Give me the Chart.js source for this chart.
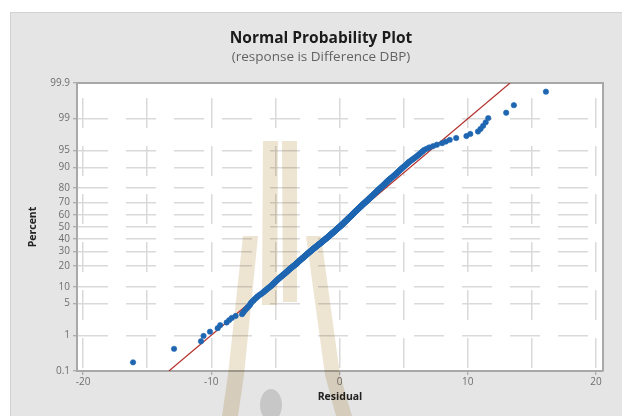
<!DOCTYPE html>
<html>
<head>
<meta charset="utf-8">
<style>
  html, body { margin: 0; padding: 0; background: #ffffff; }
  #wrap { width: 622px; height: 416px; }
</style>
<script src="https://cdn.jsdelivr.net/npm/chart.js@4.4.1/dist/chart.umd.min.js"></script>
</head>
<body>
<div id="wrap"><canvas id="chart" width="622" height="416"></canvas></div>
<script>
// Residuals of the DBP-difference model, sorted ascending.
const residuals = [
  -16.1, -12.9, -10.8, -10.6, -10.1, -9.5, -9.3, -8.8, -8.6, -8.4,
  -8.1, -7.6, -7.5, -7.4, -7.3, -7.2, -7.1, -7.0, -6.95, -6.9,
  -6.82, -6.71, -6.66, -6.55, -6.47, -6.41, -6.3, -6.22, -6.1, -6.02,
  -5.93, -5.88, -5.79, -5.71, -5.66, -5.57, -5.52, -5.43, -5.37, -5.29,
  -5.26, -5.19, -5.16, -5.08, -5.05, -4.99, -4.96, -4.88, -4.86, -4.8,
  -4.74, -4.71, -4.64, -4.61, -4.55, -4.49, -4.46, -4.39, -4.36, -4.29,
  -4.27, -4.2, -4.18, -4.12, -4.09, -4.03, -4.01, -3.95, -3.93, -3.87,
  -3.84, -3.78, -3.76, -3.7, -3.67, -3.61, -3.59, -3.53, -3.5, -3.44,
  -3.42, -3.37, -3.35, -3.3, -3.28, -3.23, -3.21, -3.16, -3.14, -3.09,
  -3.07, -3.02, -3.0, -2.95, -2.93, -2.88, -2.86, -2.81, -2.78, -2.74,
  -2.72, -2.67, -2.66, -2.61, -2.59, -2.54, -2.53, -2.48, -2.46, -2.41,
  -2.4, -2.35, -2.33, -2.28, -2.27, -2.22, -2.2, -2.15, -2.14, -2.09,
  -2.07, -2.02, -2.01, -1.96, -1.94, -1.89, -1.88, -1.83, -1.81, -1.76,
  -1.75, -1.7, -1.68, -1.63, -1.62, -1.57, -1.55, -1.5, -1.49, -1.44,
  -1.42, -1.38, -1.36, -1.32, -1.3, -1.26, -1.24, -1.2, -1.18, -1.14,
  -1.12, -1.08, -1.06, -1.02, -1.0, -0.96, -0.94, -0.9, -0.88, -0.84,
  -0.82, -0.79, -0.76, -0.74, -0.71, -0.68, -0.65, -0.63, -0.6, -0.57,
  -0.54, -0.52, -0.49, -0.46, -0.43, -0.41, -0.38, -0.35, -0.32, -0.3,
  -0.27, -0.24, -0.21, -0.19, -0.16, -0.13, -0.1, -0.08, -0.05, -0.02,
  0.01, 0.04, 0.06, 0.09, 0.11, 0.14, 0.16, 0.19, 0.21, 0.24,
  0.26, 0.29, 0.31, 0.34, 0.36, 0.39, 0.41, 0.44, 0.46, 0.49,
  0.51, 0.54, 0.56, 0.59, 0.61, 0.64, 0.66, 0.69, 0.71, 0.74,
  0.77, 0.79, 0.82, 0.84, 0.87, 0.89, 0.92, 0.94, 0.97, 0.99,
  1.02, 1.04, 1.07, 1.09, 1.12, 1.14, 1.17, 1.19, 1.22, 1.24,
  1.27, 1.3, 1.32, 1.35, 1.38, 1.41, 1.43, 1.46, 1.49, 1.52,
  1.54, 1.57, 1.6, 1.63, 1.65, 1.68, 1.71, 1.74, 1.76, 1.79,
  1.82, 1.85, 1.88, 1.91, 1.94, 1.97, 2.0, 2.03, 2.06, 2.09,
  2.12, 2.15, 2.18, 2.21, 2.24, 2.27, 2.3, 2.33, 2.36, 2.39,
  2.42, 2.46, 2.49, 2.52, 2.55, 2.59, 2.62, 2.65, 2.68, 2.72,
  2.75, 2.78, 2.81, 2.85, 2.88, 2.91, 2.94, 2.98, 3.01, 3.04,
  3.08, 3.12, 3.15, 3.19, 3.23, 3.27, 3.3, 3.34, 3.38, 3.42,
  3.45, 3.49, 3.53, 3.57, 3.6, 3.64, 3.68, 3.72, 3.75, 3.79,
  3.84, 3.89, 3.94, 3.99, 4.04, 4.09, 4.14, 4.19, 4.24, 4.29,
  4.34, 4.39, 4.44, 4.49, 4.54, 4.59, 4.64, 4.69, 4.74, 4.79,
  4.86, 4.92, 4.99, 5.05, 5.12, 5.18, 5.25, 5.31, 5.38, 5.44,
  5.54, 5.63, 5.73, 5.82, 5.92, 6.01, 6.11, 6.2, 6.3, 6.4,
  6.5, 6.6, 6.8, 7.0, 7.3, 7.6, 8.0, 8.3, 8.6, 9.1,
  9.9, 10.2, 10.8, 11.0, 11.2, 11.4, 11.6, 13.0, 13.6, 16.1
];

// Fitted normal reference line, given by its two end points.
const fitLineResidual = [-13.3, 13.3];
const fitLinePercent = [0.1, 99.9];

// Axis ticks.
const percentTicks = [0.1, 1, 5, 10, 20, 30, 40, 50, 60, 70, 80, 90, 95, 99, 99.9];
const residualTicks = [-20, -15, -10, -5, 0, 5, 10, 15, 20];
const residualLabelled = [-20, -10, 0, 10, 20];

const chartTitle = 'Normal Probability Plot';
const chartSubtitle = '(response is Difference DBP)';
const xTitle = 'Residual';
const yTitle = 'Percent';

// Inverse of the standard normal CDF (Acklam's rational approximation).
function probit(p) {
  const a = [-3.969683028665376e+01, 2.209460984245205e+02, -2.759285104469687e+02, 1.383577518672690e+02, -3.066479806614716e+01, 2.506628277459239e+00];
  const b = [-5.447609879822406e+01, 1.615858368580409e+02, -1.556989798598866e+02, 6.680131188771972e+01, -1.328068155288572e+01];
  const c = [-7.784894002430293e-03, -3.223964580411365e-01, -2.400758277161838e+00, -2.549732539343734e+00, 4.374664141464968e+00, 2.938163982698783e+00];
  const d = [7.784695709041462e-03, 3.224671290700398e-01, 2.445134137142996e+00, 3.754408661907416e+00];
  const pl = 0.02425, ph = 1 - pl;
  let q, r;
  if (p < pl) {
    q = Math.sqrt(-2 * Math.log(p));
    return (((((c[0]*q+c[1])*q+c[2])*q+c[3])*q+c[4])*q+c[5]) / ((((d[0]*q+d[1])*q+d[2])*q+d[3])*q+1);
  }
  if (p > ph) {
    q = Math.sqrt(-2 * Math.log(1 - p));
    return -(((((c[0]*q+c[1])*q+c[2])*q+c[3])*q+c[4])*q+c[5]) / ((((d[0]*q+d[1])*q+d[2])*q+d[3])*q+1);
  }
  q = p - 0.5; r = q * q;
  return (((((a[0]*r+a[1])*r+a[2])*r+a[3])*r+a[4])*r+a[5])*q / (((((b[0]*r+b[1])*r+b[2])*r+b[3])*r+b[4])*r+1);
}
function normCdf(z) {
  const t = 1 / (1 + 0.2316419 * Math.abs(z));
  const poly = t*(0.319381530 + t*(-0.356563782 + t*(1.781477937 + t*(-1.821255978 + t*1.330274429))));
  const tail = Math.exp(-z*z/2) / Math.sqrt(2*Math.PI) * poly;
  return z >= 0 ? 1 - tail : tail;
}

// Normal-probability (probit) axis: values are percents, spacing follows normal quantiles.
class ProbabilityScale extends Chart.LinearScale {
  determineDataLimits() {
    this.min = this.options.min;
    this.max = this.options.max;
  }
  buildTicks() {
    return percentTicks.map(v => ({ value: v }));
  }
  configure() {
    super.configure();
    this._zStart = probit(this.min / 100);
    this._zEnd = probit(this.max / 100);
  }
  getPixelForValue(value) {
    const z = probit(value / 100);
    return this.getPixelForDecimal((z - this._zStart) / (this._zEnd - this._zStart));
  }
  getValueForPixel(pixel) {
    const dec = this.getDecimalForPixel(pixel);
    return 100 * normCdf(this._zStart + dec * (this._zEnd - this._zStart));
  }
}
ProbabilityScale.id = 'probability';
ProbabilityScale.defaults = {};
Chart.register(ProbabilityScale);

// Median-rank plotting positions for the sorted residuals.
const n = residuals.length;
const residualPoints = residuals.map((r, i) => ({ x: r, y: 100 * (i + 1 - 0.3) / (n + 0.4) }));
const fitLinePoints = fitLineResidual.map((r, i) => ({ x: r, y: fitLinePercent[i] }));

const FONT = '"Open Sans", "Noto Sans", "DejaVu Sans", sans-serif';

// Grey panel, white plotting area and frame.
const panelPlugin = {
  id: 'panel',
  beforeDraw(chart) {
    const { ctx, chartArea: a } = chart;
    ctx.save();
    ctx.fillStyle = '#ffffff';
    ctx.fillRect(0, 0, chart.width, chart.height);
    ctx.fillStyle = '#e5e5e5';
    ctx.fillRect(10, 12, chart.width - 10, chart.height - 12);
    ctx.strokeStyle = '#d2d2d2';
    ctx.lineWidth = 1;
    ctx.beginPath();
    ctx.moveTo(10.5, chart.height);
    ctx.lineTo(10.5, 12.5);
    ctx.lineTo(chart.width, 12.5);
    ctx.stroke();
    ctx.fillStyle = '#ffffff';
    ctx.fillRect(a.left, a.top, a.right - a.left, a.bottom - a.top);
    ctx.restore();
  },
  beforeDatasetsDraw(chart) {
    const { ctx, chartArea: a } = chart;
    ctx.save();
    // frame: top and right edges
    ctx.strokeStyle = '#a8a8a8';
    ctx.lineWidth = 2;
    ctx.beginPath();
    ctx.moveTo(a.left, a.top);
    ctx.lineTo(a.right, a.top);
    ctx.lineTo(a.right, a.bottom);
    ctx.stroke();
    // titles
    ctx.textAlign = 'center';
    ctx.textBaseline = 'middle';
    ctx.fillStyle = '#1b1b1b';
    ctx.font = 'bold 15.5px ' + FONT;
    ctx.fillText(chartTitle, 321, 39);
    ctx.fillStyle = '#636363';
    ctx.font = '13.5px ' + FONT;
    ctx.fillText(chartSubtitle, 321, 57);
    ctx.restore();
  }
};

// Faint emblem printed behind the plot.
const emblemPlugin = {
  id: 'emblem',
  beforeDatasetsDraw(chart) {
    const { ctx } = chart;
    const shapes = [
      [[263,141],[278,141],[277,305],[262,305]],
      [[282,141],[297,141],[297,302],[283,302]],
      [[243,236],[258,236],[244,375],[238,416],[222,416],[228,375]],
      [[306,236],[321,236],[340,375],[352,416],[336,416],[325,375]]
    ];
    ctx.save();
    ctx.globalCompositeOperation = 'multiply';
    ctx.fillStyle = '#eee4d2';
    shapes.forEach(poly => {
      ctx.beginPath();
      poly.forEach(([x, y], i) => i ? ctx.lineTo(x, y) : ctx.moveTo(x, y));
      ctx.closePath();
      ctx.fill();
    });
    ctx.globalCompositeOperation = 'source-over';
    ctx.fillStyle = '#c7c7c7';
    ctx.beginPath();
    ctx.ellipse(271, 405, 11, 16, 0, 0, Math.PI * 2);
    ctx.fill();
    ctx.restore();
  }
};

new Chart(document.getElementById('chart'), {
  type: 'scatter',
  data: {
    datasets: [
      {
        label: 'Residuals',
        data: residualPoints,
        order: 1,
        backgroundColor: '#1f66b1',
        borderColor: '#1f66b1',
        borderWidth: 0.6,
        pointRadius: 2.7,
        pointStyle: 'circle'
      },
      {
        label: 'Fit',
        data: fitLinePoints,
        order: 2,
        showLine: true,
        borderColor: '#b3302c',
        borderWidth: 1.2,
        pointRadius: 0,
        fill: false
      }
    ]
  },
  options: {
    responsive: false,
    animation: false,
    devicePixelRatio: 1,
    layout: { padding: { left: 10, top: 83, right: 19, bottom: 0 } },
    plugins: { legend: { display: false }, tooltip: { enabled: false } },
    scales: {
      x: {
        type: 'linear',
        position: 'bottom',
        min: -20.47,
        max: 20.55,
        afterBuildTicks(scale) { scale.ticks = residualTicks.map(v => ({ value: v })); },
        afterFit(scale) { scale.height = 45; },
        ticks: {
          autoSkip: false,
          maxRotation: 0,
          padding: 1,
          color: '#6e6e6e',
          font: { family: FONT, size: 10 },
          callback: v => residualLabelled.includes(v) ? String(v) : ''
        },
        grid: {
          color: '#d9d9d9',
          lineWidth: 1.5,
          tickLength: 4,
          tickWidth: 1,
          tickColor: ctx => (ctx.tick && residualLabelled.includes(ctx.tick.value)) ? '#9a9a9a' : 'rgba(0,0,0,0)'
        },
        border: { display: true, color: '#a8a8a8', width: 2, dash: [30, 18], dashOffset: 33 },
        title: {
          display: true,
          text: xTitle,
          color: '#222222',
          font: { family: FONT, size: 10.5, weight: 'bold' },
          padding: { top: 0, bottom: 13 }
        }
      },
      y: {
        type: 'probability',
        position: 'left',
        min: 0.1,
        max: 99.9,
        afterFit(scale) { scale.width = 67; },
        ticks: {
          autoSkip: false,
          padding: 3,
          color: '#6e6e6e',
          font: { family: FONT, size: 10 },
          callback: v => String(v)
        },
        grid: {
          color: '#d9d9d9',
          lineWidth: 1.5,
          tickLength: 4,
          tickWidth: 1,
          tickColor: '#9a9a9a'
        },
        border: { display: true, color: '#a8a8a8', width: 2, dash: [30, 18], dashOffset: 0 },
        title: {
          display: true,
          text: yTitle,
          color: '#222222',
          font: { family: FONT, size: 10.5, weight: 'bold' },
          padding: { top: 17, bottom: 0 }
        }
      }
    }
  },
  plugins: [panelPlugin, emblemPlugin]
});
</script>
</body>
</html>
